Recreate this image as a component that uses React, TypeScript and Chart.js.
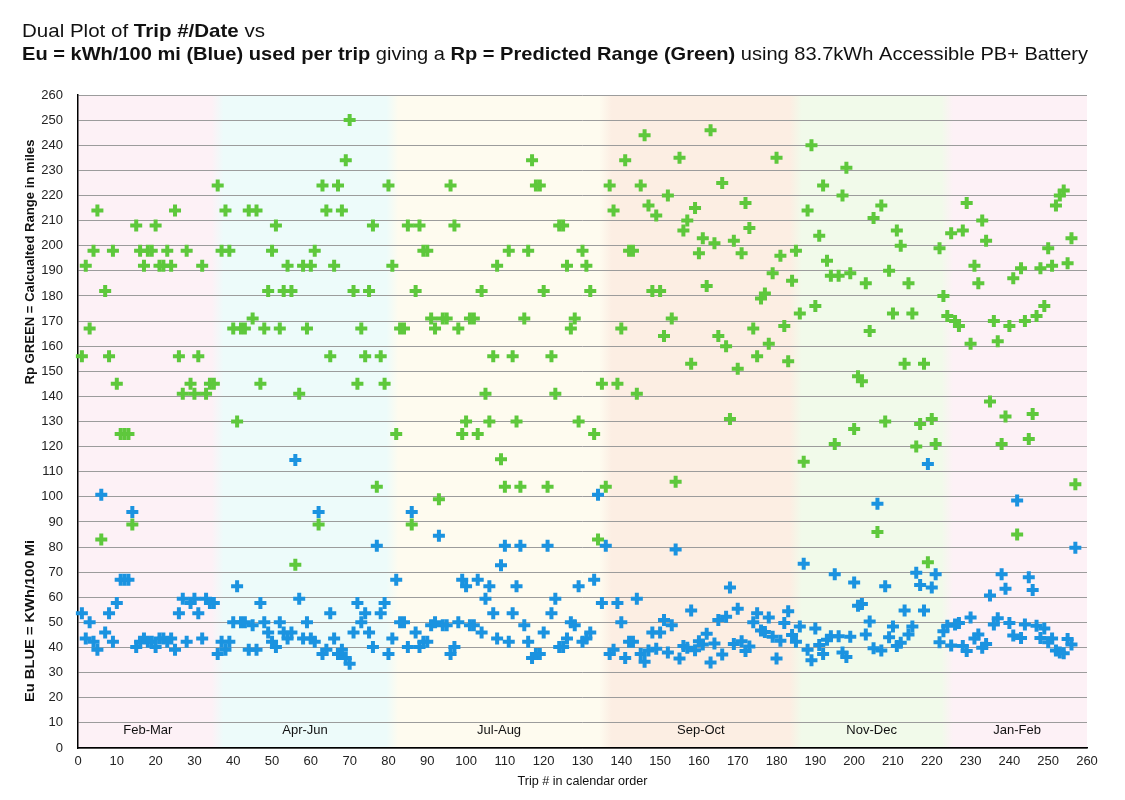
import React, { useEffect, useRef } from "react";
import { Chart, registerables } from "chart.js";
Chart.register(...registerables);

// Rp = predicted range (miles), trips 1..257 in calendar order
const rangeGreen: number[] = [
  156, 192, 167, 198, 214, 83, 182, 156, 198, 145,
  125, 125, 125, 89, 208, 198, 192, 198, 198, 208,
  192, 192, 198, 192, 214, 156, 141, 198, 145, 141,
  156, 192, 141, 145, 145, 224, 198, 214, 198, 167,
  130, 167, 167, 214, 171, 214, 145, 167, 182, 198,
  208, 167, 182, 192, 182, 73, 141, 192, 167, 192,
  198, 89, 224, 214, 156, 192, 224, 214, 234, 250,
  182, 145, 167, 156, 182, 208, 104, 156, 145, 224,
  192, 125, 167, 167, 208, 89, 182, 208, 198, 198,
  171, 167, 99, 171, 171, 224, 208, 167, 125, 130,
  171, 171, 125, 182, 141, 130, 156, 192, 115, 104,
  198, 156, 130, 104, 171, 198, 234, 224, 224, 182,
  104, 156, 141, 208, 208, 192, 167, 171, 130, 198,
  192, 182, 125, 83, 145, 104, 224, 214, 145, 167,
  234, 198, 198, 141, 224, 244, 216, 182, 212, 182,
  164, 220, 171, 106, 235, 206, 210, 153, 215, 197,
  203, 184, 246, 201, 164, 225, 160, 131, 202, 151,
  197, 217, 207, 167, 156, 179, 181, 161, 189, 235,
  196, 168, 154, 186, 198, 173, 114, 214, 240, 176,
  204, 224, 194, 188, 121, 188, 220, 231, 189, 127,
  148, 146, 185, 166, 211, 86, 216, 130, 190, 173,
  206, 200, 153, 185, 173, 120, 129, 153, 74, 131,
  121, 199, 180, 172, 205, 170, 168, 206, 217, 161,
  192, 185, 210, 202, 138, 170, 162, 121, 132, 168,
  187, 85, 191, 170, 123, 133, 172, 191, 176, 199,
  192, 216, 220, 222, 193, 203, 105,
];

// Eu = kWh/100 mi used per trip, trips 1..257
const usageBlue: number[] = [
  53.7, 43.6, 50.1, 42.3, 39.1, 100.8, 46.0, 53.7, 42.3, 57.7,
  67.0, 67.0, 67.0, 94.0, 40.2, 42.3, 43.6, 42.3, 42.3, 40.2,
  43.6, 43.6, 42.3, 43.6, 39.1, 53.7, 59.4, 42.3, 57.7, 59.4,
  53.7, 43.6, 59.4, 57.7, 57.7, 37.4, 42.3, 39.1, 42.3, 50.1,
  64.4, 50.1, 50.1, 39.1, 48.9, 39.1, 57.7, 50.1, 46.0, 42.3,
  40.2, 50.1, 46.0, 43.6, 46.0, 114.7, 59.4, 43.6, 50.1, 43.6,
  42.3, 94.0, 37.4, 39.1, 53.7, 43.6, 37.4, 39.1, 35.8, 33.5,
  46.0, 57.7, 50.1, 53.7, 46.0, 40.2, 80.5, 53.7, 57.7, 37.4,
  43.6, 67.0, 50.1, 50.1, 40.2, 94.0, 46.0, 40.2, 42.3, 42.3,
  48.9, 50.1, 84.5, 48.9, 48.9, 37.4, 40.2, 50.1, 67.0, 64.4,
  48.9, 48.9, 67.0, 46.0, 59.4, 64.4, 53.7, 43.6, 72.8, 80.5,
  42.3, 53.7, 64.4, 80.5, 48.9, 42.3, 35.8, 37.4, 37.4, 46.0,
  80.5, 53.7, 59.4, 40.2, 40.2, 43.6, 50.1, 48.9, 64.4, 42.3,
  43.6, 46.0, 67.0, 100.8, 57.7, 80.5, 37.4, 39.1, 57.7, 50.1,
  35.8, 42.3, 42.3, 59.4, 37.4, 34.3, 38.8, 46.0, 39.5, 46.0,
  51.0, 38.0, 48.9, 79.0, 35.6, 40.6, 39.9, 54.7, 38.9, 42.5,
  41.2, 45.5, 34.0, 41.6, 51.0, 37.2, 52.3, 63.9, 41.4, 55.4,
  42.5, 38.6, 40.4, 50.1, 53.7, 46.8, 46.2, 52.0, 44.3, 35.6,
  42.7, 49.8, 54.4, 45.0, 42.3, 48.4, 73.4, 39.1, 34.9, 47.6,
  41.0, 37.4, 43.1, 44.5, 69.2, 44.5, 38.0, 36.2, 44.3, 65.9,
  56.6, 57.3, 45.2, 50.4, 39.7, 97.3, 38.8, 64.4, 44.1, 48.4,
  40.6, 41.9, 54.7, 45.2, 48.4, 69.8, 64.9, 54.7, 113.1, 63.9,
  69.2, 42.1, 46.5, 48.7, 40.8, 49.2, 49.8, 40.6, 38.6, 52.0,
  43.6, 45.2, 39.9, 41.4, 60.7, 49.2, 51.7, 69.2, 63.4, 49.8,
  44.8, 98.5, 43.8, 49.2, 68.0, 62.9, 48.7, 43.8, 47.6, 42.1,
  43.6, 38.8, 38.0, 37.7, 43.4, 41.2, 79.7,
];

// Period bands (trip # ranges)
const periodStart: number[] = [0, 36, 81, 136, 185, 224];
const periodEnd: number[] = [36, 81, 136, 185, 224, 260];
const periodLabels: string[] = ["Feb-Mar", "Apr-Jun", "Jul-Aug", "Sep-Oct", "Nov-Dec", "Jan-Feb"];

const BAND_COLORS = ["#FDF1F6", "#EDFBFA", "#FEFBEF", "#FCEEE3", "#F1FAEA", "#FDF1F6"];
const GREEN = "#5EC83C";
const BLUE = "#1B93E0";
const FONT = '"Liberation Sans", Arial, Helvetica, sans-serif';

type Seg = { t: string; b?: boolean };

function drawSegs(ctx: CanvasRenderingContext2D, segs: Seg[], x: number, y: number, size: number, targetW: number, align: "left" | "center") {
  let total = 0;
  for (const s of segs) {
    ctx.font = `${s.b ? "bold " : ""}${size}px ${FONT}`;
    total += ctx.measureText(s.t).width;
  }
  const sx = targetW > 0 ? targetW / total : 1;
  ctx.save();
  ctx.translate(x, y);
  ctx.scale(sx, 1);
  let cx = align === "center" ? -total / 2 : 0;
  ctx.textAlign = "left";
  for (const s of segs) {
    ctx.font = `${s.b ? "bold " : ""}${size}px ${FONT}`;
    ctx.fillText(s.t, cx, 0);
    cx += ctx.measureText(s.t).width;
  }
  ctx.restore();
}

const decorPlugin = {
  id: "decor",
  beforeDraw(chart: any) {
    const { ctx, chartArea, scales } = chart;
    const xs = scales.x;
    const top = chartArea.top;
    const h = chartArea.bottom - chartArea.top;
    ctx.save();
    ctx.fillStyle = "#ffffff";
    ctx.fillRect(0, 0, chart.width, chart.height);
    for (let i = 0; i < periodStart.length; i++) {
      const x0 = xs.getPixelForValue(periodStart[i]);
      const x1 = xs.getPixelForValue(periodEnd[i]);
      ctx.fillStyle = BAND_COLORS[i];
      ctx.fillRect(x0, top, x1 - x0, h);
    }
    // soft transitions between bands
    for (let i = 1; i < periodStart.length; i++) {
      const xb = xs.getPixelForValue(periodStart[i]);
      const g = ctx.createLinearGradient(xb - 6, 0, xb + 6, 0);
      g.addColorStop(0, BAND_COLORS[i - 1]);
      g.addColorStop(1, BAND_COLORS[i]);
      ctx.fillStyle = g;
      ctx.fillRect(xb - 6, top, 12, h);
    }
    ctx.restore();
  },
  beforeDatasetsDraw(chart: any) {
    const { ctx, scales } = chart;
    const xs = scales.x;
    const ys = scales.y;
    ctx.save();
    ctx.fillStyle = "#111";
    ctx.font = `13px ${FONT}`;
    ctx.textAlign = "center";
    ctx.textBaseline = "middle";
    for (let i = 0; i < periodLabels.length; i++) {
      const cx = xs.getPixelForValue((periodStart[i] + periodEnd[i]) / 2);
      ctx.fillText(periodLabels[i], cx, ys.getPixelForValue(7));
    }
    ctx.restore();
  },
  afterDraw(chart: any) {
    const { ctx, chartArea } = chart;
    ctx.save();
    ctx.fillStyle = "#111";
    ctx.textBaseline = "alphabetic";
    drawSegs(ctx, [{ t: "Dual Plot of " }, { t: "Trip #/Date", b: true }, { t: " vs" }], 22, 37, 19, 243, "left");
    drawSegs(
      ctx,
      [
        { t: "Eu = kWh/100 mi (Blue) used per trip", b: true },
        { t: " giving a " },
        { t: "Rp = Predicted Range (Green)", b: true },
        { t: " using 83.7kWh Accessible PB+ Battery" },
      ],
      22, 60, 19, 1066, "left"
    );
    // x axis title
    ctx.textBaseline = "middle";
    drawSegs(ctx, [{ t: "Trip # in calendar order" }], (chartArea.left + chartArea.right) / 2, 782, 12, 130, "center");
    // y axis titles (rotated)
    ctx.save();
    ctx.translate(31, 262);
    ctx.rotate(-Math.PI / 2);
    drawSegs(ctx, [{ t: "Rp GREEN = Calcualted Range in miles", b: true }], 0, 0, 12.5, 245, "center");
    ctx.restore();
    ctx.save();
    ctx.translate(31, 621);
    ctx.rotate(-Math.PI / 2);
    drawSegs(ctx, [{ t: "Eu BLUE = KWh/100 Mi", b: true }], 0, 0, 12.5, 162, "center");
    ctx.restore();
    ctx.restore();
  },
};

export default function App() {
  const ref = useRef<HTMLCanvasElement | null>(null);
  useEffect(() => {
    if (!ref.current) return;
    const trips = rangeGreen.map((_, i) => i + 1);
    const chart = new Chart(ref.current, {
      type: "scatter",
      data: {
        datasets: [
          {
            label: "Eu",
            data: usageBlue.map((v, i) => ({ x: trips[i], y: v })),
            pointStyle: "cross",
            radius: 6,
            borderWidth: 4,
            borderColor: BLUE,
            backgroundColor: BLUE,
            clip: false,
          },
          {
            label: "Rp",
            data: rangeGreen.map((v, i) => ({ x: trips[i], y: v })),
            pointStyle: "cross",
            radius: 6,
            borderWidth: 4,
            borderColor: GREEN,
            backgroundColor: GREEN,
            clip: false,
          },
        ],
      },
      options: {
        animation: false,
        responsive: false,
        devicePixelRatio: 1,
        events: [],
        layout: { padding: { left: 0, right: 38, top: 95, bottom: 0 } },
        plugins: { legend: { display: false }, title: { display: false }, tooltip: { enabled: false } },
        scales: {
          x: {
            type: "linear",
            min: 0,
            max: 260,
            afterFit: (s: any) => { s.height = 52; },
            ticks: { stepSize: 10, color: "#222", font: { size: 13, family: FONT }, padding: 6, maxRotation: 0, autoSkip: false },
            grid: { display: false, drawTicks: false },
            border: { display: true, color: "#000", width: 1.5 },
          },
          y: {
            type: "linear",
            min: 0,
            max: 260,
            afterFit: (s: any) => { s.width = 78; },
            ticks: { stepSize: 10, color: "#222", font: { size: 13, family: FONT }, padding: 15, autoSkip: false },
            grid: { display: true, color: "#9c9c9c", lineWidth: 1, drawTicks: false },
            border: { display: true, color: "#000", width: 1.5 },
          },
        },
      },
      plugins: [decorPlugin],
    } as any);
    return () => chart.destroy();
  }, []);
  return (
    <div style={{ position: "fixed", left: 0, top: 0, width: 1125, height: 800, background: "#fff" }}>
      <canvas ref={ref} width={1125} height={800} style={{ width: 1125, height: 800, display: "block" }} />
    </div>
  );
}
